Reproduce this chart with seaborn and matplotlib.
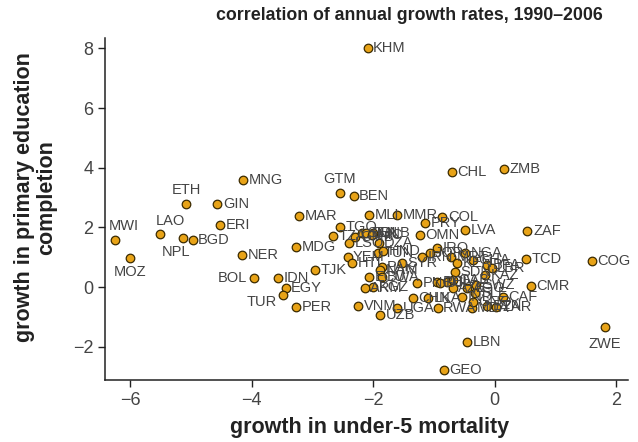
"""Scatter of growth in under-5 mortality vs growth in primary completion."""
import matplotlib
matplotlib.use("Agg")
import matplotlib.pyplot as plt
import pandas as pd
import seaborn as sns

# country codes and values
codes = [
    "KHM", "CHL", "ZMB", "ZAF", "COG", "ZWE", "TCD", "CMR", "LBN", "GEO",
    "MWI", "MOZ", "LAO", "ETH", "NPL", "BGD", "GIN", "ERI", "MNG", "NER",
    "BOL", "IDN", "EGY", "TUR", "PER", "MAR", "MDG", "TJK", "GTM", "BEN",
    "MLI", "MMR", "COL", "LVA", "OMN", "PRY", "VNM", "UZB", "UGA", "RWA",
    "TGO", "TZA", "LSO", "GMB", "SEN", "BDI", "GNB", "NIC", "DZA", "YEM",
    "HTI", "TUN", "HND", "PAK", "SYR", "IRN", "IRQ", "JOR", "MRT", "KEN",
    "NGA", "BFA", "SDN", "LBR", "CIV", "GAB", "ECU", "NAM", "BWA", "KGZ",
    "ARM", "PNG", "PHL", "CHN", "LKA", "AZE", "IND", "CAF", "MDA", "GNQ",
    "SLE", "ZAR", "GHA", "KAZ", "SWZ", "DJI", "BTN", "AGO",
]
mortality_growth = [
    -2.09, -0.71, 0.15, 0.54, 1.60, 1.81, 0.51, 0.59, -0.46, -0.84,
    -6.25, -6.00, -5.51, -5.07, -5.13, -4.97, -4.56, -4.52, -4.14, -4.16,
    -3.96, -3.57, -3.44, -3.49, -3.26, -3.22, -3.27, -2.96, -2.55, -2.32,
    -2.06, -1.61, -0.86, -0.49, -1.23, -1.15, -2.25, -1.88, -1.60, -0.94,
    -2.55, -2.66, -2.40, -2.30, -2.19, -2.12, -2.00, -2.02, -1.91, -2.42,
    -2.34, -1.92, -1.83, -1.86, -1.53, -1.20, -0.95, -1.07, -0.72, -0.62,
    -0.49, -0.12, -0.66, -0.05, -0.79, -0.69, -2.06, -1.89, -1.86, -2.00,
    -2.14, -1.28, -0.95, -1.35, -1.10, -0.69, -0.53, 0.13, -0.38, -0.36,
    -0.33, 0.03, -0.36, -0.16, -0.30, -0.90, -0.13, -0.45,
]
education_growth = [
    8.02, 3.86, 3.96, 1.88, 0.87, -1.34, 0.94, 0.03, -1.85, -2.79,
    1.58, 0.97, 1.78, 2.79, 1.64, 1.58, 2.79, 2.08, 3.59, 1.07,
    0.30, 0.30, -0.03, -0.27, -0.67, 2.38, 1.34, 0.57, 3.15, 3.05,
    2.42, 2.42, 2.35, 1.91, 1.74, 2.15, -0.64, -0.94, -0.70, -0.70,
    2.01, 1.71, 1.47, 1.68, 1.81, 1.81, 1.81, 1.75, 1.47, 1.00,
    0.81, 1.14, 1.21, 0.67, 0.81, 1.00, 1.31, 1.14, 1.00, 0.81,
    1.14, 0.74, 0.50, 0.64, 0.17, 0.23, 0.34, 0.57, 0.34, 0.00,
    -0.03, 0.13, 0.17, -0.37, -0.37, -0.03, -0.34, -0.34, -0.70, -0.50,
    -0.20, -0.67, 0.91, 0.40, 0.07, 0.13, -0.64, -0.03,
]

# labels that sit somewhere other than right of the dot (dx, dy in points, ha)
label_place = {
    "MWI": (-4, 10, "left"), "MOZ": (0, -10, "center"), "LAO": (-3, 9, "left"),
    "ETH": (0, 10, "center"), "NPL": (-5, -10, "center"), "BOL": (-5, 0, "right"),
    "TUR": (-4, -5, "right"), "GTM": (0, 10, "center"), "ZWE": (0, -12, "center"),
}

df = pd.DataFrame({"code": codes, "u5m": mortality_growth, "edu": education_growth})

font = ["Liberation Sans", "DejaVu Sans"]
sns.set_style("ticks")
plt.rcParams["font.family"] = font

fig = plt.figure(figsize=(6.38, 4.42), dpi=100)
ax = fig.add_axes([0.1646, 0.140, 0.8194, 0.774])

sns.scatterplot(data=df, x="u5m", y="edu", ax=ax, s=38, color="#E8A317",
                edgecolor="#3a2a00", linewidth=0.9, zorder=3, legend=False)

for _, r in df.iterrows():
    dx, dy, ha = label_place.get(r["code"], (4, 0, "left"))
    ax.annotate(r["code"], (r["u5m"], r["edu"]), xytext=(dx, dy),
                textcoords="offset points", ha=ha, va="center",
                fontsize=10.5, color="#444444", zorder=4)

ax.set_xlim(-6.41, 2.19)
ax.set_ylim(-3.12, 8.35)
ax.set_xticks([-6, -4, -2, 0, 2])
ax.set_yticks([-2, 0, 2, 4, 6, 8])
ax.set_xticklabels(["\u22126", "\u22124", "\u22122", "0", "2"])
ax.set_yticklabels(["\u22122", "0", "2", "4", "6", "8"])
ax.tick_params(labelsize=13, length=5, width=1, colors="#222222")
for lab in ax.get_xticklabels() + ax.get_yticklabels():
    lab.set_color("#444444")
sns.despine(ax=ax)
for s in ("left", "bottom"):
    ax.spines[s].set_linewidth(1.1)
    ax.spines[s].set_color("#222222")
ax.set_xlabel("")
ax.set_ylabel("")

fig.text(0.58, 0.032, "growth in under-5 mortality", ha="center", va="center",
         fontsize=15.5, fontweight="bold", color="#222222")
fig.text(0.056, 0.554, "growth in primary education\ncompletion", ha="center",
         va="center", rotation=90, fontsize=15.5, fontweight="bold",
         color="#222222", linespacing=1.1)
fig.text(0.641, 0.964, "correlation of annual growth rates, 1990\u20132006",
         ha="center", va="center", fontsize=12.8, fontweight="bold", color="#222222")

fig.savefig("out.png", dpi=100)
